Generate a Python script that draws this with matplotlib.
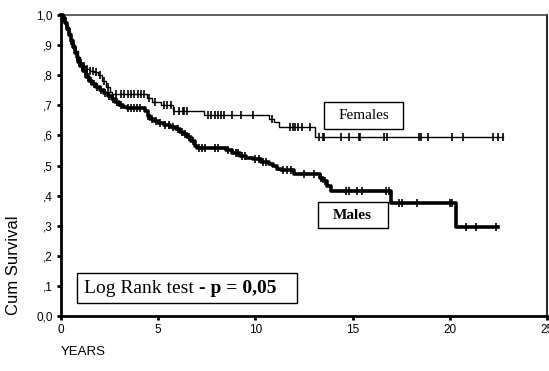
import numpy as np
import matplotlib.pyplot as plt
from matplotlib.patches import Rectangle

# Kaplan-Meier step curves (time in years, cumulative survival)
fem_times = [0, 0.1, 0.2, 0.3, 0.4, 0.5, 0.6, 0.7, 0.85, 1.0, 1.15, 1.3, 1.5, 1.7, 1.9,
             2.1, 2.3, 2.5, 2.6, 4.4, 4.7, 5.15, 5.75, 7.35, 10.7, 10.95, 11.2, 13.05]
fem_surv = [1.0, 0.99, 0.975, 0.96, 0.94, 0.92, 0.90, 0.88, 0.86, 0.84, 0.83, 0.82, 0.815, 0.81, 0.80,
            0.78, 0.76, 0.745, 0.737, 0.725, 0.712, 0.70, 0.68, 0.668, 0.655, 0.643, 0.627, 0.595]
fem_end = 22.75
fem_censor = [0.15, 0.3, 0.45, 0.6, 0.75, 0.9, 1.05, 1.2, 1.35, 1.5, 1.65, 1.8, 2.0, 2.2, 2.4,
              2.84, 3.1, 3.26, 3.43, 3.6, 3.78, 3.95, 4.12, 4.29, 4.55, 4.85, 5.3, 5.45,
              5.67, 5.83, 6.09, 6.26, 6.35, 6.5, 7.55, 7.72, 7.9, 8.06, 8.24, 8.4, 8.8, 9.26, 9.86,
              10.85, 11.8, 11.95, 12.05, 12.2, 12.4, 12.8, 13.26, 13.46, 13.55, 14.4, 14.8,
              15.35, 15.4, 16.6, 16.75, 18.4, 18.5, 18.9, 20.1, 20.7, 22.2, 22.5, 22.75]

male_times = [0, 0.1, 0.2, 0.3, 0.4, 0.5, 0.6, 0.7, 0.8, 0.9, 1.0, 1.15, 1.3, 1.45, 1.6, 1.8,
              2.0, 2.2, 2.4, 2.6, 2.8, 3.0, 3.2, 3.4, 4.3, 4.45, 4.6, 4.8, 5.0, 5.3, 5.6, 5.9,
              6.1, 6.3, 6.5, 6.7, 6.9, 7.0, 8.5, 8.8, 9.2, 9.5, 9.9, 10.3, 10.7, 10.9, 11.1,
              11.3, 12.0, 13.3, 13.5, 13.7, 13.9, 17.0, 20.3]
male_surv = [1.0, 0.99, 0.975, 0.955, 0.935, 0.915, 0.895, 0.875, 0.86, 0.845, 0.83, 0.815,
             0.795, 0.78, 0.77, 0.76, 0.75, 0.74, 0.73, 0.72, 0.71, 0.70, 0.695, 0.69, 0.68,
             0.665, 0.655, 0.648, 0.64, 0.635, 0.628, 0.62, 0.612, 0.605, 0.595, 0.58, 0.565,
             0.558, 0.55, 0.54, 0.533, 0.525, 0.52, 0.512, 0.505, 0.498, 0.49, 0.484, 0.472,
             0.46, 0.448, 0.432, 0.416, 0.376, 0.297]
male_end = 22.5
male_censor = [0.1, 0.25, 0.35, 0.5, 0.65, 0.8, 0.95, 1.1, 1.25, 1.4, 1.55, 1.7, 1.85, 2.05,
               2.25, 2.45, 2.65, 2.9, 3.1, 3.45, 3.6, 3.75, 3.9, 4.05, 4.5, 4.7, 4.9, 5.1, 5.35,
               5.55, 5.75, 6.0, 6.2, 6.4, 6.6, 6.8, 7.1, 7.25, 7.4, 7.9, 8.1, 8.6, 9.0, 9.1, 9.3,
               9.45, 10.0, 10.2, 10.4, 10.55, 11.4, 11.6, 11.85, 12.5, 13.0, 13.4, 13.6, 14.66,
               14.8, 15.25, 15.5, 16.7, 16.85, 17.4, 17.55, 18.3, 20.0, 20.1, 20.85, 21.35, 22.4]

x_ticks = [0, 5, 10, 15, 20, 25]
y_ticks = [0.0, 0.1, 0.2, 0.3, 0.4, 0.5, 0.6, 0.7, 0.8, 0.9, 1.0]
y_labels = ['0,0', ',1', ',2', ',3', ',4', ',5', ',6', ',7', ',8', ',9', '1,0']

serif = 'Liberation Serif'
sans = 'Liberation Sans'


def km(ax, times, surv, end, censor, lw):
    t = np.append(times, end)
    s = np.append(surv, surv[-1])
    ax.step(t, s, where='post', color='black', lw=lw, clip_on=False, zorder=3)
    idx = np.searchsorted(times, censor, side='right') - 1
    ax.plot(censor, np.array(surv)[idx], ls='none', marker='|', ms=6,
            mew=1.2, color='black', clip_on=False, zorder=3)


fig = plt.figure(figsize=(5.49, 3.71), dpi=100)
ax = fig.add_axes([61 / 549, 55 / 371, 486 / 549, 301 / 371])

km(ax, fem_times, fem_surv, fem_end, fem_censor, 1.0)
km(ax, male_times, male_surv, male_end, male_censor, 2.6)

ax.set_xlim(0, 25)
ax.set_ylim(0, 1)
ax.set_xticks(x_ticks)
ax.set_xticklabels([str(v) for v in x_ticks], family=sans, fontsize=8.5)
ax.set_yticks(y_ticks)
ax.set_yticklabels(y_labels, family=sans, fontsize=8.5)
ax.tick_params(direction='out', length=3, width=2, pad=3)

ax.spines['left'].set_linewidth(2)
ax.spines['bottom'].set_linewidth(2)
ax.spines['top'].set_linewidth(1.2)
ax.spines['right'].set_linewidth(1.2)
ax.spines['top'].set_color('#444444')

# annotation boxes
ax.add_patch(Rectangle((13.55, 0.621), 4.05, 0.09, fill=False, lw=1, ec='black'))
ax.text(15.575, 0.666, 'Females', family=serif, fontsize=11, ha='center', va='center')

ax.add_patch(Rectangle((13.2, 0.292), 3.6, 0.087, fill=False, lw=1, ec='black'))
ax.text(15.0, 0.335, 'Males', family=serif, fontsize=11, weight='bold', ha='center', va='center')

ax.add_patch(Rectangle((0.8, 0.043), 11.35, 0.1, fill=False, lw=1, ec='black'))
t1 = ax.text(1.2, 0.09, 'Log Rank test ', family=serif, fontsize=14, ha='left', va='center')
ax.annotate('- p = 0,05', xy=(1, 0.5), xycoords=t1, family=serif, fontsize=14,
            weight='bold', ha='left', va='center')

fig.text(14 / 549, 0.286, 'Cum Survival', family=sans, fontsize=12, rotation=90,
         ha='center', va='center')
fig.text(61 / 549, 0.051, 'YEARS', family=sans, fontsize=9.5, ha='left', va='center')

fig.savefig('out.png', dpi=100)
